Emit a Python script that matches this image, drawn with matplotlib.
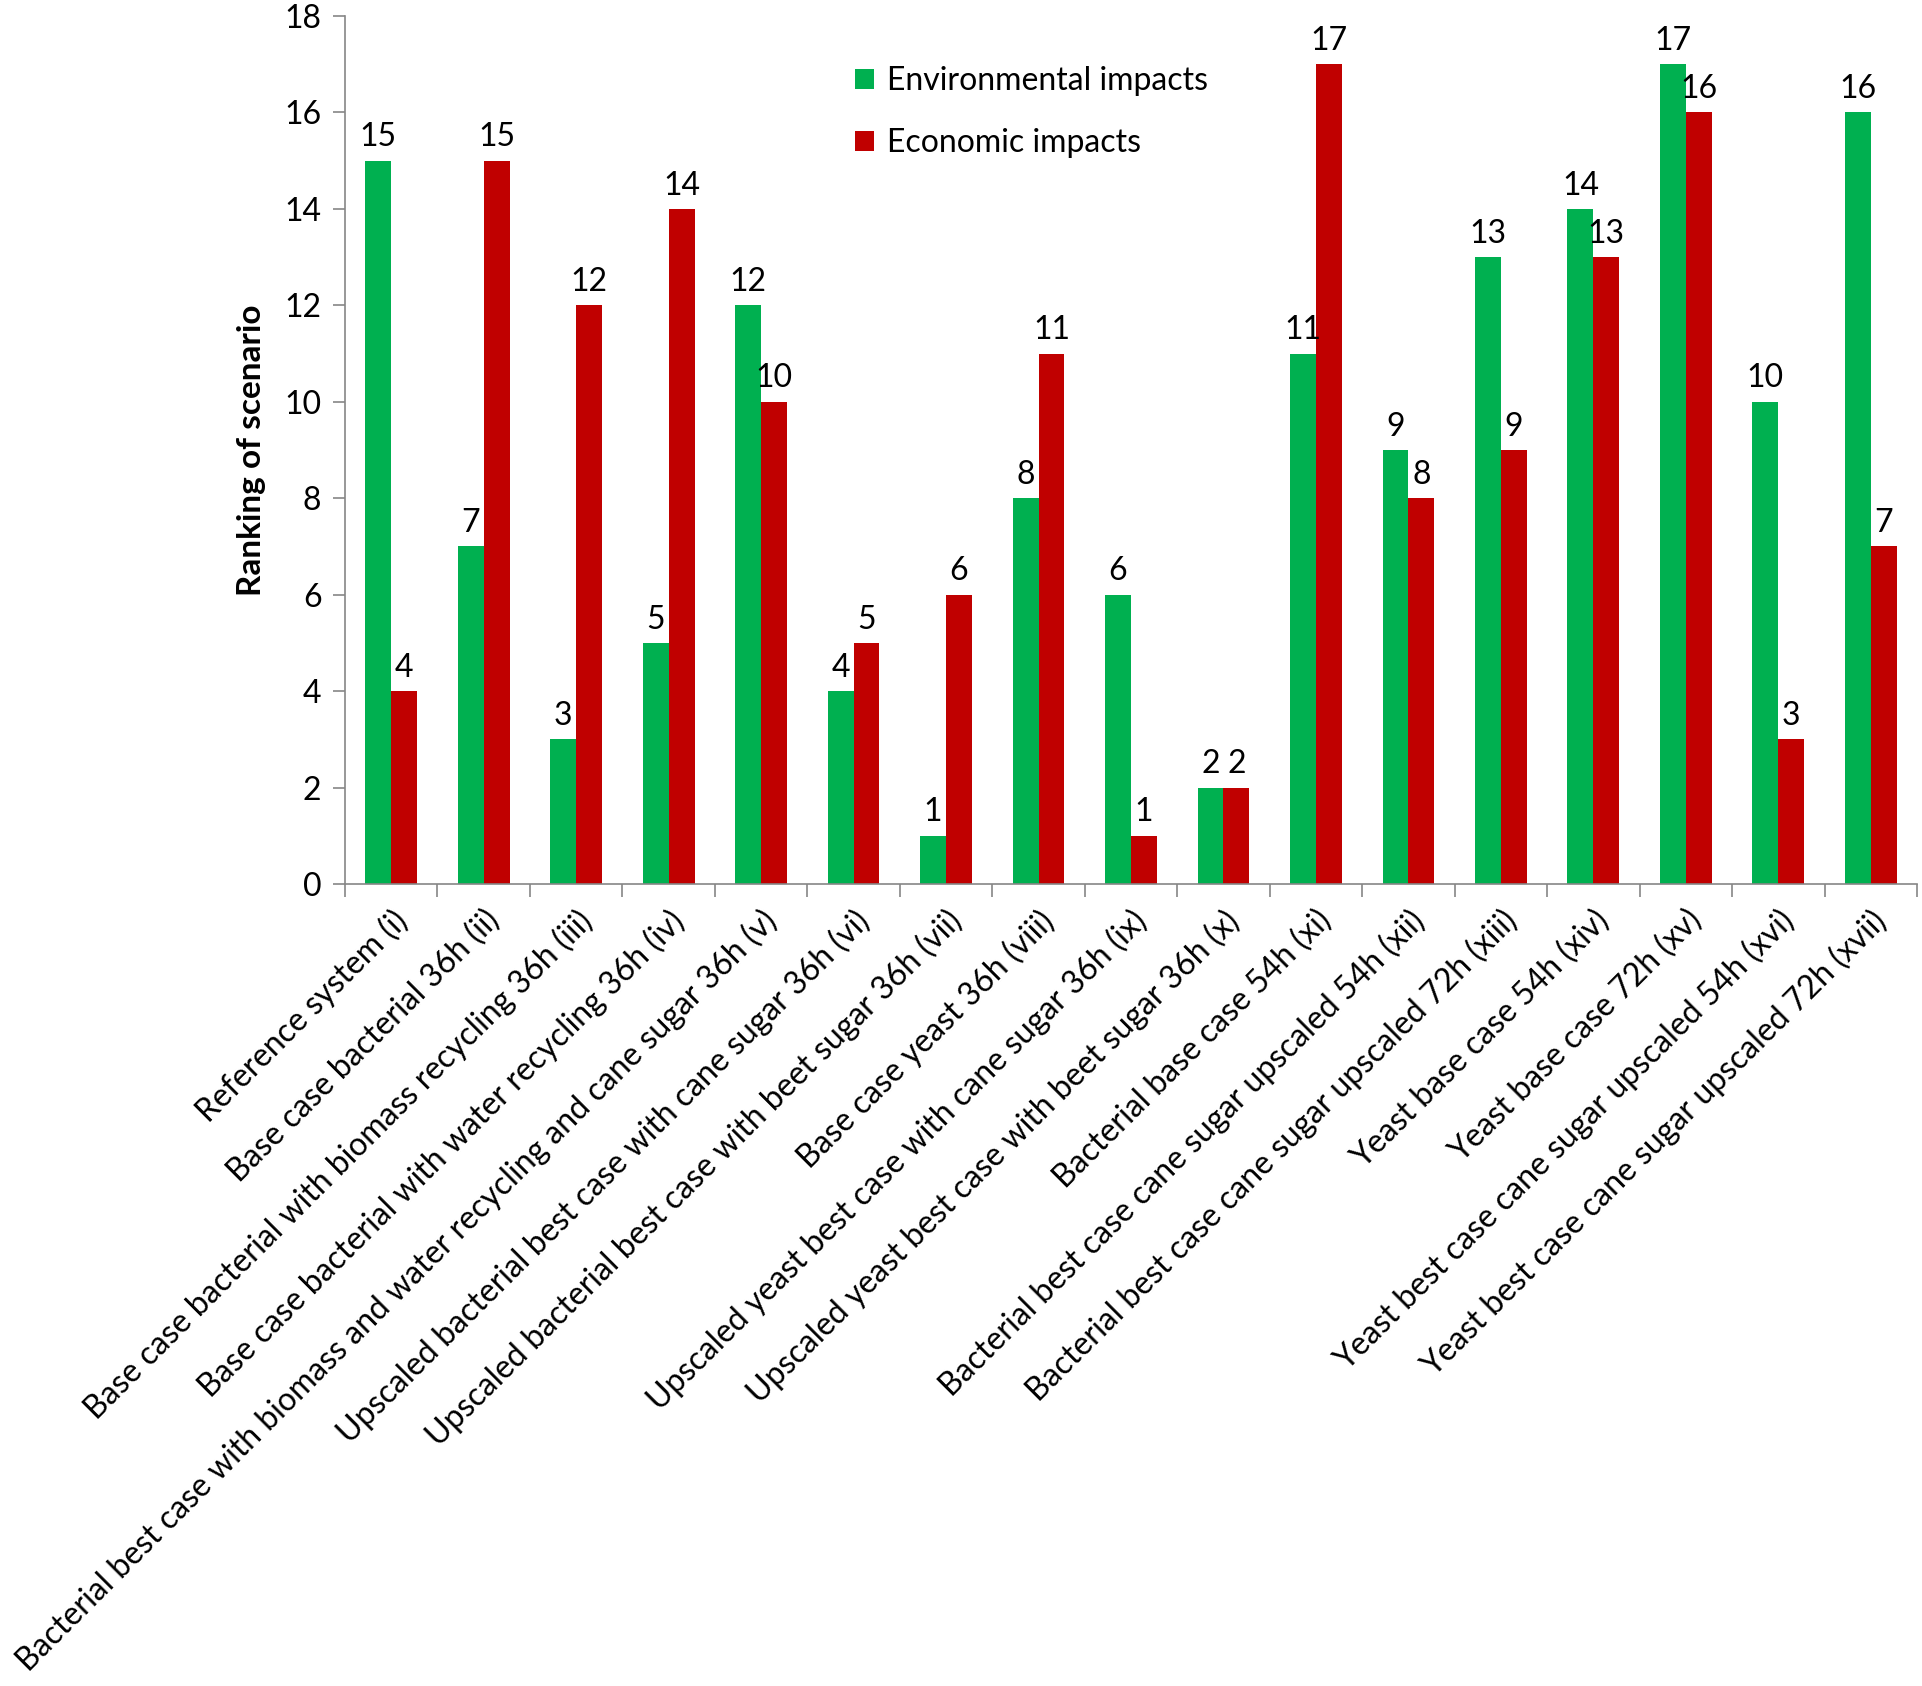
import matplotlib
matplotlib.use("Agg")
import matplotlib.pyplot as plt
import numpy as np

categories = [
    "Reference system (i)",
    "Base case bacterial 36h (ii)",
    "Base case bacterial with biomass recycling 36h (iii)",
    "Base case bacterial with water recycling 36h (iv)",
    "Bacterial best case with biomass and water recycling and cane sugar 36h (v)",
    "Upscaled bacterial best case with cane sugar 36h (vi)",
    "Upscaled bacterial best case with beet sugar 36h (vii)",
    "Base case yeast 36h (viii)",
    "Upscaled yeast best case with cane sugar 36h (ix)",
    "Upscaled yeast best case with beet sugar 36h (x)",
    "Bacterial base case 54h (xi)",
    "Bacterial best case cane sugar upscaled 54h (xii)",
    "Bacterial best case cane sugar upscaled 72h (xiii)",
    "Yeast base case 54h (xiv)",
    "Yeast base case 72h (xv)",
    "Yeast best case cane sugar upscaled 54h (xvi)",
    "Yeast best case cane sugar upscaled 72h (xvii)",
]
environmental = [15, 7, 3, 5, 12, 4, 1, 8, 6, 2, 11, 9, 13, 14, 17, 10, 16]
economic = [4, 15, 12, 14, 10, 5, 6, 11, 1, 2, 17, 8, 9, 13, 16, 3, 7]
yticks = [0, 2, 4, 6, 8, 10, 12, 14, 16, 18]

plt.rcParams['font.family'] = ['Lato', 'DejaVu Sans']

fig = plt.figure(figsize=(19.22, 16.86), dpi=100)
ax = fig.add_axes([0.1795, 0.4757, 0.8179, 0.5148])

x = np.arange(len(categories))
w = 0.28
green = '#00B050'
red = '#C00000'
b1 = ax.bar(x - w/2, environmental, w, color=green, label='Environmental impacts')
b2 = ax.bar(x + w/2, economic, w, color=red, label='Economic impacts')

fs = 23
for rects, vals in ((b1, environmental), (b2, economic)):
    for r, v in zip(rects, vals):
        ax.annotate(str(v), (r.get_x() + r.get_width()/2, v), xytext=(0, 6),
                    textcoords='offset points', ha='center', va='bottom', fontsize=fs)

ax.set_xlim(-0.5, len(categories) - 0.5)
ax.set_ylim(0, 18)
ax.set_yticks(yticks)
ax.set_yticklabels([str(t) for t in yticks], fontsize=fs)
ax.set_xticks(x)
ax.set_xticklabels(categories, rotation=45, ha='right', rotation_mode='anchor', fontsize=fs)
ax.tick_params(axis='x', which='major', length=0, pad=15)
ax.set_xticks(np.arange(len(categories) + 1) - 0.5, minor=True)
ax.tick_params(axis='x', which='minor', length=9, color='#868686', width=1.2)
ax.tick_params(axis='y', length=9, color='#868686', width=1.2, pad=8)
for s in ('top', 'right'):
    ax.spines[s].set_visible(False)
for s in ('left', 'bottom'):
    ax.spines[s].set_color('#868686')
    ax.spines[s].set_linewidth(1.2)

ax.set_ylabel('Ranking of scenario', fontsize=24, fontweight='bold', labelpad=13)

leg = ax.legend(loc='upper left', bbox_to_anchor=(0.306, 0.975), frameon=False,
                fontsize=fs, handlelength=0.6, handleheight=0.6, handletextpad=0.4,
                labelspacing=1.0)

fig.savefig('out.png', dpi=100)
